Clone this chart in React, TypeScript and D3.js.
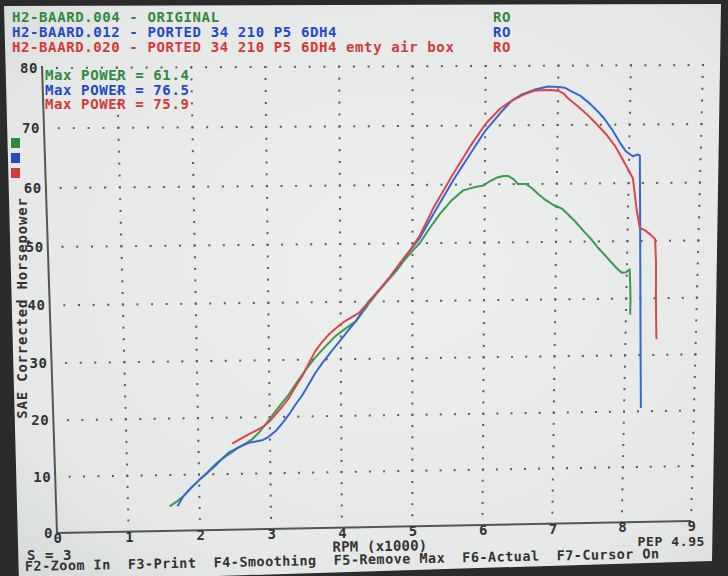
import * as d3 from "d3";

// dyno runs (rpm x1000, SAE hp)
const runNames = [
  "H2-BAARD.004 - ORIGINAL",
  "H2-BAARD.012 - PORTED 34 210 P5 6DH4",
  "H2-BAARD.020 - PORTED 34 210 P5 6DH4 emty air box",
];
const runTags = ["RO", "RO", "RO"];
const maxPower = ["61.4", "76.5", "75.9"];
const textColors = ["#2f8a40", "#2448c8", "#d23a3a"];
const lineColors = ["#3b9a4f", "#3566d6", "#d9474a"];

const originalRun: [number, number][] = [
  [1.58, 4.4], [1.69, 5.3], [1.77, 6.1], [1.88, 7.5], [2.0, 9.0], [2.12, 10.4], [2.25, 12.0],
  [2.38, 13.2], [2.47, 13.9], [2.56, 14.7], [2.66, 15.4], [2.75, 16.1], [2.84, 17.2], [2.92, 18.4],
  [3.0, 19.7], [3.08, 21.0], [3.17, 22.4], [3.27, 23.9], [3.36, 25.6], [3.46, 27.4], [3.55, 28.9],
  [3.64, 30.3], [3.78, 32.2], [3.92, 34.0], [4.06, 35.3], [4.21, 36.6], [4.35, 38.9], [4.49, 41.2],
  [4.63, 43.2], [4.77, 45.2], [4.88, 47.0], [5.0, 48.7], [5.1, 50.0], [5.24, 52.6], [5.38, 55.0],
  [5.54, 57.3], [5.7, 59.0], [5.85, 59.5], [5.98, 59.8], [6.08, 60.6], [6.16, 61.1], [6.25, 61.4],
  [6.32, 61.4], [6.4, 60.8], [6.46, 60.0], [6.57, 60.0], [6.65, 59.3], [6.75, 58.2], [6.85, 57.2],
  [6.95, 56.4], [7.08, 55.7], [7.18, 54.5], [7.27, 53.4], [7.4, 51.6], [7.5, 50.3], [7.59, 48.9],
  [7.68, 47.7], [7.77, 46.5], [7.85, 45.4], [7.93, 44.5], [7.99, 44.6], [8.04, 45.1], [8.05, 43.0],
  [8.06, 40.0], [8.06, 37.2],
];

const portedRun: [number, number][] = [
  [1.69, 4.4], [1.77, 6.1], [1.88, 7.6], [2.0, 9.0], [2.12, 10.3], [2.23, 11.5], [2.33, 12.8],
  [2.42, 13.8], [2.56, 14.7], [2.7, 15.5], [2.8, 15.7], [2.89, 15.9], [2.98, 16.5], [3.08, 17.5],
  [3.17, 18.8], [3.27, 20.4], [3.36, 22.1], [3.46, 23.8], [3.55, 25.7], [3.64, 27.6], [3.73, 29.2],
  [3.83, 30.8], [3.92, 32.2], [4.02, 33.7], [4.11, 35.1], [4.21, 36.6], [4.3, 38.3], [4.39, 40.0],
  [4.5, 41.5], [4.68, 44.1], [4.82, 46.4], [4.96, 48.7], [5.1, 50.9], [5.3, 55.2], [5.56, 60.7],
  [5.8, 65.3], [6.0, 69.1], [6.2, 72.0], [6.35, 74.0], [6.5, 75.2], [6.68, 76.0], [6.86, 76.5],
  [7.0, 76.4], [7.09, 76.3], [7.2, 75.6], [7.31, 74.9], [7.45, 73.5], [7.55, 72.3], [7.64, 71.1],
  [7.75, 69.3], [7.87, 66.9], [7.95, 65.5], [8.05, 64.6], [8.12, 64.9], [8.15, 64.7], [8.16, 60.0],
  [8.18, 50.0], [8.2, 40.0], [8.22, 30.0], [8.24, 20.6],
];

const airboxRun: [number, number][] = [
  [2.47, 15.4], [2.6, 16.3], [2.7, 17.0], [2.8, 17.6], [2.92, 18.4], [3.0, 19.3], [3.08, 20.4],
  [3.17, 21.7], [3.27, 23.3], [3.36, 25.2], [3.46, 27.1], [3.55, 29.3], [3.64, 31.4], [3.73, 32.9],
  [3.83, 34.3], [3.92, 35.3], [4.02, 36.3], [4.12, 37.1], [4.25, 38.0], [4.34, 39.2], [4.44, 40.6],
  [4.56, 42.3], [4.68, 44.1], [4.82, 46.5], [4.96, 48.7], [5.1, 51.3], [5.3, 56.3], [5.56, 61.8],
  [5.8, 66.6], [6.0, 70.2], [6.2, 72.8], [6.39, 74.4], [6.55, 75.3], [6.67, 75.8], [6.76, 75.9],
  [6.9, 75.9], [7.0, 75.8], [7.08, 75.3], [7.13, 74.6], [7.25, 73.4], [7.41, 71.7], [7.55, 70.0],
  [7.68, 68.3], [7.8, 66.4], [7.9, 64.3], [7.98, 62.6], [8.06, 60.8], [8.12, 55.5], [8.17, 52.3],
  [8.25, 51.8], [8.33, 51.0], [8.39, 50.3], [8.41, 46.0], [8.42, 40.0], [8.43, 36.0], [8.44, 32.8],
];

const runs = [originalRun, portedRun, airboxRun];

const xTicks = [0, 1, 2, 3, 4, 5, 6, 7, 8, 9];
const yTicks = [0, 10, 20, 30, 40, 50, 60, 70, 80];
const footerText =
  "F2-Zoom In  F3-Print  F4-Smoothing  F5-Remove Max  F6-Actual  F7-Cursor On";

const W = 728;
const H = 576;
const font = "'DejaVu Sans Mono', monospace";

// the plot is a photo of a CRT, so map the flat chart onto the skewed screen
const plotCorners: [number, number][] = [
  [57, 533], // 0 rpm, 0 hp
  [691, 521], // 9 rpm, 0 hp
  [703, 65], // 9 rpm, 80 hp
  [42, 68], // 0 rpm, 80 hp
];

function makeWarp(c: [number, number][]) {
  const [[x0, y0], [x1, y1], [x2, y2], [x3, y3]] = c;
  const dx1 = x1 - x2, dx2 = x3 - x2, dx3 = x0 - x1 + x2 - x3;
  const dy1 = y1 - y2, dy2 = y3 - y2, dy3 = y0 - y1 + y2 - y3;
  const den = dx1 * dy2 - dx2 * dy1;
  const g = (dx3 * dy2 - dx2 * dy3) / den;
  const h = (dx1 * dy3 - dx3 * dy1) / den;
  const a = x1 - x0 + g * x1, b = x3 - x0 + h * x3;
  const d = y1 - y0 + g * y1, e = y3 - y0 + h * y3;
  return (u: number, v: number): [number, number] => {
    const w = g * u + h * v + 1;
    return [(a * u + b * v + x0) / w, (d * u + e * v + y0) / w];
  };
}

const xScale = d3.scaleLinear().domain([0, 9]).range([0, 1]);
const yScale = d3.scaleLinear().domain([0, 80]).range([0, 1]);
const warp = makeWarp(plotCorners);
const proj = (rpm: number, hp: number) => warp(xScale(rpm), yScale(hp));

const line = d3
  .line<[number, number]>()
  .x((d) => proj(d[0], d[1])[0])
  .y((d) => proj(d[0], d[1])[1]);

export default function App() {
  // dotted grid: every 0.2 rpm along hp lines, every 2 hp along rpm lines
  const rpmSteps = d3.range(1, 46).map((i) => i * 0.2);
  const hpSteps = d3.range(1, 41).map((i) => i * 2);
  const dots: [number, number][] = [];
  yTicks.slice(1).forEach((hp) => rpmSteps.forEach((r) => dots.push(proj(r, hp))));
  xTicks.slice(1).forEach((r) => hpSteps.forEach((hp) => dots.push(proj(r, hp))));

  const origin = proj(0, 0);
  const xEnd = proj(9, 0);
  const yEnd = proj(0, 80);

  const txt = { fontFamily: font, fontWeight: 700, fontSize: 14, letterSpacing: 0.6 };

  return (
    <svg
      width={W}
      height={H}
      style={{ position: "absolute", left: 0, top: 0, display: "block" }}
    >
      <defs>
        <radialGradient id="screen" cx="55%" cy="45%" r="75%">
          <stop offset="0%" stopColor="#edefee" />
          <stop offset="75%" stopColor="#e5e8e6" />
          <stop offset="100%" stopColor="#d6dad8" />
        </radialGradient>
      </defs>
      <rect width={W} height={H} fill="#2b2b2b" />
      <polygon points="4,6 721,4 712,561 19,582" fill="url(#screen)" />

      {/* header */}
      {runNames.map((n, i) => (
        <g key={n} style={txt} fill={textColors[i]}>
          <text x={12} y={22 + i * 15}>{n}</text>
          <text x={493} y={22 + i * 15}>{runTags[i]}</text>
        </g>
      ))}

      {/* grid */}
      {dots.map((p, i) => (
        <rect key={i} x={p[0] - 1} y={p[1] - 1} width={2} height={2} fill="#5a5c5b" />
      ))}

      {/* axes */}
      <line x1={origin[0]} y1={origin[1]} x2={xEnd[0]} y2={xEnd[1]} stroke="#555" strokeWidth={2} />
      <line x1={origin[0]} y1={origin[1]} x2={yEnd[0]} y2={yEnd[1] - 2} stroke="#555" strokeWidth={2} />

      {yTicks.map((t) => {
        const p = proj(0, t);
        return (
          <text key={t} x={p[0] - 4} y={p[1] + 5} textAnchor="end" fill="#333" style={txt}>
            {t}
          </text>
        );
      })}
      {xTicks.map((t) => {
        const p = proj(t, 0);
        return (
          <text key={t} x={p[0] + 1} y={p[1] + 10} textAnchor="middle" fill="#333" style={txt}>
            {t}
          </text>
        );
      })}

      {/* curves */}
      {runs.map((r, i) => (
        <path
          key={i}
          d={line(r) ?? ""}
          fill="none"
          stroke={lineColors[i]}
          strokeWidth={2}
          strokeLinejoin="round"
        />
      ))}

      {/* max power legend */}
      {maxPower.map((m, i) => (
        <text key={i} x={45} y={80 + i * 14.5} fill={textColors[i]} style={txt}>
          {`Max POWER = ${m}`}
        </text>
      ))}

      {/* run colour keys */}
      {lineColors.map((c, i) => (
        <rect key={c} x={11} y={138 + i * 15} width={9} height={10} fill={textColors[i]} />
      ))}

      <text
        transform="translate(27,308) rotate(-90)"
        textAnchor="middle"
        fill="#333"
        style={{ ...txt, letterSpacing: 0.8 }}
      >
        SAE Corrected Horsepower
      </text>

      <text x={380} y={551} textAnchor="middle" fill="#333" style={{ ...txt, letterSpacing: 0.2 }} transform="rotate(-0.9 380 551)">
        RPM (x1000)
      </text>
      <text x={705} y={546} textAnchor="end" fill="#333" style={{ ...txt, fontSize: 13, letterSpacing: 0.6 }}>
        PEP 4.95
      </text>
      <text x={27} y={560} fill="#333" style={txt}>
        S = 3
      </text>
      <text
        x={25}
        y={571}
        fill="#333"
        style={{ ...txt, fontSize: 13.5, letterSpacing: 0.45 }}
        transform="rotate(-1.15 25 571)"
        xmlSpace="preserve"
      >
        {footerText}
      </text>
    </svg>
  );
}
